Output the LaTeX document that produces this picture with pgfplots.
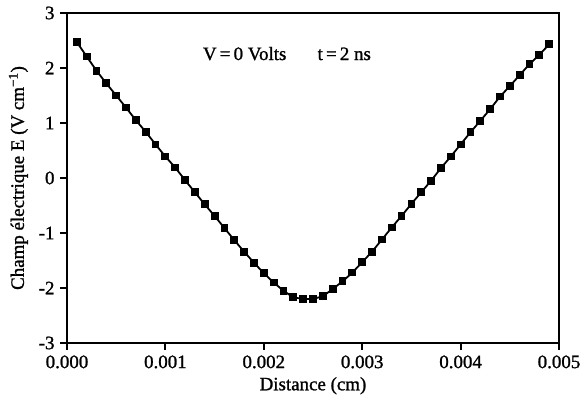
\documentclass[border=0pt]{standalone}
\usepackage{fontspec}
\setmainfont{Liberation Serif}[FakeBold=1.2,AutoFakeBold=1.2]
\usepackage{pgfplots}
\pgfplotsset{compat=1.18}
\begin{document}
\fontsize{19}{22}\selectfont\bfseries
\begin{tikzpicture}
\begin{axis}[
  scale only axis,
  width=492bp, height=330bp,
  xmin=0, xmax=0.005, ymin=-3, ymax=3,
  scaled x ticks=false,
  axis line style={line width=2bp},
  xtick={0,0.001,0.002,0.003,0.004,0.005},
  xticklabels={0.000,0.001,0.002,0.003,0.004,0.005},
  ytick={-3,-2,-1,0,1,2,3},
  yticklabels={-3,-2,-1,0,1,2,3},
  tick align=outside,
  tick pos=left,
  major tick length=7bp,
  tick style={line width=2bp, black},
  xticklabel style={yshift=1bp},
  yticklabel style={xshift=1bp},
  xlabel={Distance (cm)},
  ylabel={Champ électrique E (V cm\textsuperscript{\symbol{"2212}1})},
  xlabel style={yshift=4bp},
  ylabel style={yshift=-2bp},
  clip=false,
]
\addplot[black, line width=1.8bp, mark=square*, mark size=3bp, mark options={solid, fill=black}] coordinates {
(0.0001,2.47) (0.0002,2.21) (0.0003,1.95) (0.0004,1.72) (0.0005,1.50)
(0.0006,1.28) (0.0007,1.05) (0.0008,0.84) (0.0009,0.61) (0.0010,0.39)
(0.0011,0.19) (0.0012,-0.04) (0.0013,-0.26) (0.0014,-0.48) (0.0015,-0.69)
(0.0016,-0.91) (0.0017,-1.13) (0.0018,-1.34) (0.0019,-1.54) (0.0020,-1.73)
(0.0021,-1.90) (0.0022,-2.05) (0.0023,-2.17) (0.0024,-2.20) (0.0025,-2.20)
(0.0026,-2.15) (0.0027,-2.02) (0.0028,-1.88) (0.0029,-1.72) (0.0030,-1.53)
(0.0031,-1.34) (0.0032,-1.12) (0.0033,-0.90) (0.0034,-0.69) (0.0035,-0.47)
(0.0036,-0.26) (0.0037,-0.05) (0.0038,0.18) (0.0039,0.39) (0.0040,0.61)
(0.0041,0.83) (0.0042,1.04) (0.0043,1.25) (0.0044,1.48) (0.0045,1.67)
(0.0046,1.87) (0.0047,2.07) (0.0048,2.24) (0.0049,2.43)
};
\node[anchor=base west, inner sep=0pt] at (axis cs:0.00138,2.145) {V\,=\,0 Volts\hspace{1.65em}t\,=\,2 ns};
\end{axis}
\pgfresetboundingbox
\path (current axis.south west) ++(-67bp,-57bp) coordinate (bbA);
\path (current axis.north east) ++(29bp,13bp) coordinate (bbB);
\path[use as bounding box] (bbA) rectangle (bbB);
\end{tikzpicture}
\end{document}
